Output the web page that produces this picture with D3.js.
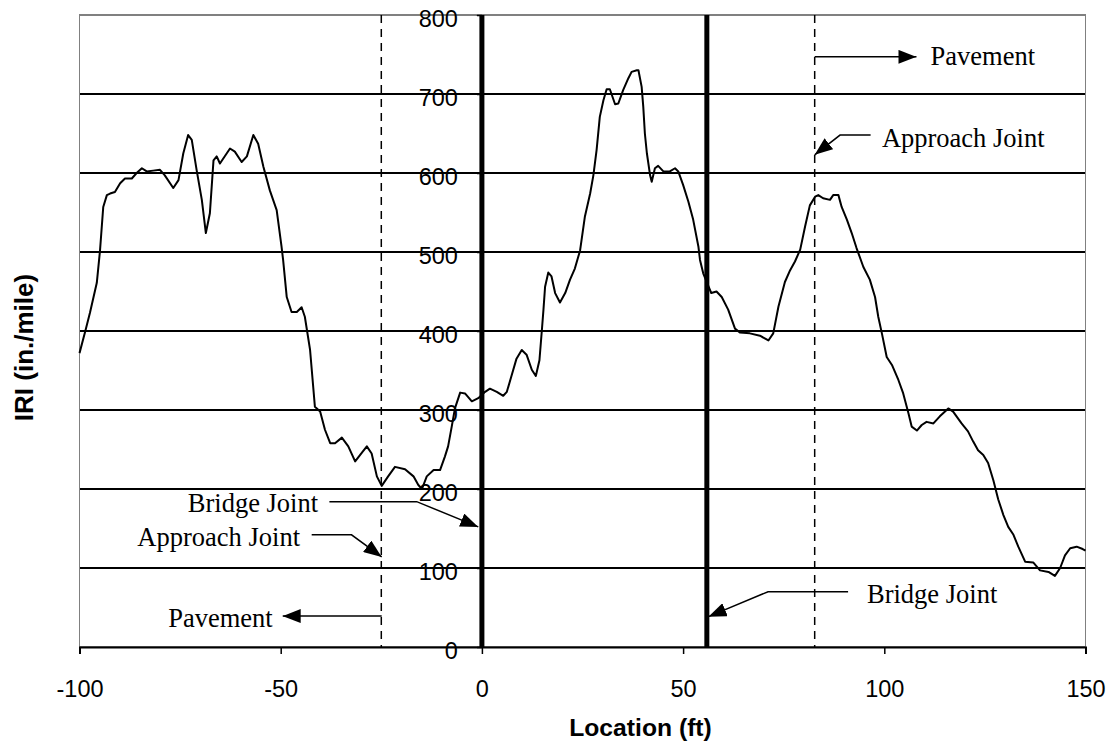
<!DOCTYPE html>
<html>
<head>
<meta charset="utf-8">
<script src="https://cdn.jsdelivr.net/npm/d3@7"></script>
<style>
  html, body { margin: 0; padding: 0; background: #fff; }
  svg { display: block; }
</style>
</head>
<body>
<svg id="chart" width="1111" height="747"></svg>
<script>
// ---- Data ----
const locationFt = [
  -100.0, -98.6, -97.4, -95.7, -94.9, -94.1, -93.2, -92.4, -91.2, -89.9, -88.7, -87.0, -85.8, -84.5, -83.3,
  -81.7, -80.0, -78.8, -76.7, -75.4, -74.2, -73.0, -72.1, -70.9, -69.6, -68.6, -67.6, -66.7, -65.9, -65.1,
  -62.6, -61.4, -59.7, -58.4, -56.8, -55.6, -54.3, -52.7, -51.0, -49.8, -49.4, -48.5, -47.3, -46.0, -44.8,
  -44.0, -42.7, -41.5, -40.2, -39.0, -37.7, -36.5, -34.8, -33.2, -31.5, -30.3, -28.6, -27.4, -26.1, -24.9,
  -23.3, -21.6, -19.1, -17.0, -15.8, -14.9, -13.7, -12.0, -10.4, -9.2, -8.4, -7.5, -6.7, -5.4, -4.2,
  -2.5, -0.9, 0.8, 2.0, 3.7, 5.3, 6.2, 7.4, 8.6, 9.9, 11.1, 12.4, 13.4, 14.3, 14.9,
  15.3, 15.7, 16.5, 17.3, 18.2, 19.4, 20.7, 21.9, 23.1, 24.4, 25.6, 26.9, 27.7, 28.5, 29.3,
  30.2, 31.0, 31.8, 33.1, 33.9, 35.1, 36.4, 37.2, 38.5, 38.9, 39.7, 40.1, 40.5, 41.0, 41.8,
  42.2, 43.0, 43.8, 45.1, 46.7, 48.0, 48.8, 50.0, 51.3, 52.5, 53.8, 54.2, 55.0, 57.0, 58.3,
  59.6, 61.2, 62.9, 64.1, 66.6, 69.1, 71.2, 72.4, 73.7, 75.3, 76.6, 77.8, 79.1, 80.3, 81.5,
  82.8, 83.6, 84.8, 86.5, 87.3, 88.6, 89.4, 90.7, 91.9, 93.1, 94.8, 96.4, 97.7, 98.5, 99.4,
  100.6, 101.9, 103.5, 104.7, 106.0, 106.8, 108.1, 109.3, 110.5, 112.2, 113.8, 115.9, 117.1, 119.2, 120.8,
  122.1, 123.3, 124.6, 125.8, 127.1, 128.3, 129.6, 130.8, 132.1, 133.3, 135.0, 137.0, 138.7, 140.8, 142.4,
  143.7, 144.9, 146.2, 147.8, 149.3, 150.0
];
const iriValues = [
  372, 399, 423, 461, 502, 557, 572, 574, 576, 587, 593, 593, 600, 606, 602,
  603, 604, 597, 581, 591, 625, 648, 642, 604, 566, 524, 549, 616, 621, 612,
  631, 627, 614, 621, 648, 637, 608, 578, 553, 507, 490, 443, 424, 424, 430,
  418, 376, 304, 298, 275, 258, 258, 265, 254, 235, 243, 254, 245, 216, 204,
  216, 228, 225, 216, 205, 200, 216, 224, 224, 241, 254, 279, 302, 322, 321,
  311, 315, 323, 327, 323, 318, 323, 344, 365, 376, 370, 351, 343, 363, 401,
  427, 456, 474, 469, 448, 436, 448, 465, 479, 502, 545, 574, 597, 629, 671,
  692, 706, 706, 687, 688, 705, 720, 728, 730, 730, 709, 684, 650, 625, 597,
  589, 606, 609, 602, 602, 606, 602, 585, 564, 541, 507, 490, 473, 448, 450,
  443, 427, 403, 398, 397, 394, 388, 397, 431, 462, 477, 488, 503, 532, 559,
  570, 572, 568, 566, 572, 572, 557, 541, 524, 505, 481, 465, 443, 418, 397,
  367, 357, 338, 321, 296, 279, 274, 281, 285, 283, 292, 302, 298, 283, 273,
  260, 249, 243, 233, 211, 187, 167, 152, 142, 127, 108, 107, 97, 95, 90,
  100, 116, 125, 127, 124, 122
];
const xTickValues = [-100, -50, 0, 50, 100, 150];
const yTickValues = [0, 100, 200, 300, 400, 500, 600, 700, 800];
const bridgeJoints = [0, 55.9];
const approachJoints = [-25, 82.7];
const xTitle = "Location (ft)";
const yTitle = "IRI (in./mile)";

// Annotations (in data units)
const annotationLabels = ["Pavement", "Approach Joint", "Bridge Joint", "Bridge Joint", "Approach Joint", "Pavement"];
const annotationTextAt = [[111.5, 737], [99.4, 633], [95.7, 55.7], [-40.7, 171], [-45.2, 128], [-52.0, 25.7]];
const annotationAnchor = ["start", "start", "start", "end", "end", "end"];
const annotationPaths = [
  [[82.7, 747], [108.0, 747]],
  [[96.6, 648], [89.0, 648], [82.7, 623]],
  [[91.0, 70], [71.1, 70], [56.3, 38.4]],
  [[-37.9, 184], [-16.2, 184], [-0.9, 152]],
  [[-42.3, 142], [-32.4, 142], [-24.9, 114]],
  [[-24.9, 39.2], [-49.5, 39.2]]
];

// ---- Layout ----
const svg = d3.select("#chart");
const plotL = 79.5, plotR = 1085.5, plotT = 15, plotB = 647;
const x = d3.scaleLinear().domain([-100, 150]).range([plotL, plotR]);
const y = d3.scaleLinear().domain([0, 800]).range([plotB, plotT]);

// gridlines
svg.append("g").selectAll("line")
  .data(yTickValues.filter(v => v > 0 && v < 800))
  .join("line")
  .attr("x1", plotL).attr("x2", plotR)
  .attr("y1", d => y(d)).attr("y2", d => y(d))
  .attr("stroke", "#000").attr("stroke-width", 1.5)
  .attr("shape-rendering", "crispEdges");

// plot border
svg.append("rect")
  .attr("x", plotL).attr("y", plotT)
  .attr("width", plotR - plotL).attr("height", plotB - plotT)
  .attr("fill", "none").attr("stroke", "#808080").attr("stroke-width", 1.5)
  .attr("shape-rendering", "crispEdges");

// data line
const line = d3.line().x((d, i) => x(locationFt[i])).y(d => y(d));
svg.append("path")
  .attr("d", line(iriValues))
  .attr("fill", "none").attr("stroke", "#000").attr("stroke-width", 2)
  .attr("stroke-linejoin", "round");

// joint lines
svg.append("g").selectAll("line")
  .data(bridgeJoints).join("line")
  .attr("x1", d => x(d)).attr("x2", d => x(d))
  .attr("y1", plotT).attr("y2", plotB)
  .attr("stroke", "#000").attr("stroke-width", 5);
svg.append("g").selectAll("line")
  .data(approachJoints).join("line")
  .attr("x1", d => x(d)).attr("x2", d => x(d))
  .attr("y1", plotT).attr("y2", plotB)
  .attr("stroke", "#000").attr("stroke-width", 1.5)
  .attr("stroke-dasharray", "8,6");

// axes
const fmt = d => String(d);
const xAxis = svg.append("g")
  .attr("transform", `translate(0,${plotB})`)
  .call(d3.axisBottom(x).tickValues(xTickValues).tickSize(7).tickPadding(26).tickFormat(fmt));
xAxis.select(".domain").attr("stroke", "#000").attr("stroke-width", 2);
xAxis.selectAll(".tick line").attr("stroke", "#000").attr("stroke-width", 1.5);
xAxis.selectAll("text").attr("font-family", "Arial, 'Liberation Sans', sans-serif").attr("font-size", "23.5px").attr("fill", "#000");

const yAxis = svg.append("g")
  .attr("transform", `translate(${x(0)},0)`)
  .call(d3.axisLeft(y).tickValues(yTickValues).tickSize(5).tickPadding(19).tickFormat(fmt));
yAxis.select(".domain").attr("stroke", "#000");
yAxis.selectAll(".tick line").attr("stroke", "#000").attr("stroke-width", 1.5);
yAxis.selectAll("text").attr("font-family", "Arial, 'Liberation Sans', sans-serif").attr("font-size", "23.5px")
  .attr("fill", "#000").attr("dy", "0.5em");

// axis titles
svg.append("text")
  .attr("x", 640.5).attr("y", 736)
  .attr("text-anchor", "middle")
  .attr("font-family", "Arial, 'Liberation Sans', sans-serif").attr("font-weight", "bold").attr("font-size", "24.7px")
  .text(xTitle);
svg.append("text")
  .attr("transform", "translate(33,347.5) rotate(-90)")
  .attr("text-anchor", "middle")
  .attr("font-family", "Arial, 'Liberation Sans', sans-serif").attr("font-weight", "bold").attr("font-size", "26px")
  .text(yTitle);

// arrow marker
const defs = svg.append("defs");
defs.append("marker")
  .attr("id", "arrow").attr("viewBox", "0 0 18 14")
  .attr("refX", 18).attr("refY", 7)
  .attr("markerWidth", 18).attr("markerHeight", 14)
  .attr("markerUnits", "userSpaceOnUse")
  .attr("orient", "auto")
  .append("path").attr("d", "M0,0 L18,7 L0,14 Z").attr("fill", "#000");

// annotations
const annLine = d3.line().x(d => x(d[0])).y(d => y(d[1]));
svg.append("g").selectAll("path")
  .data(annotationPaths).join("path")
  .attr("d", d => annLine(d))
  .attr("fill", "none").attr("stroke", "#000").attr("stroke-width", 1.5)
  .attr("marker-end", "url(#arrow)");
svg.append("g").selectAll("text")
  .data(annotationLabels).join("text")
  .attr("x", (d, i) => x(annotationTextAt[i][0]))
  .attr("y", (d, i) => y(annotationTextAt[i][1]))
  .attr("text-anchor", (d, i) => annotationAnchor[i])
  .attr("font-family", "'Times New Roman', 'Liberation Serif', serif").attr("font-size", "26.5px")
  .attr("fill", "#000")
  .text(d => d);
</script>
</body>
</html>
